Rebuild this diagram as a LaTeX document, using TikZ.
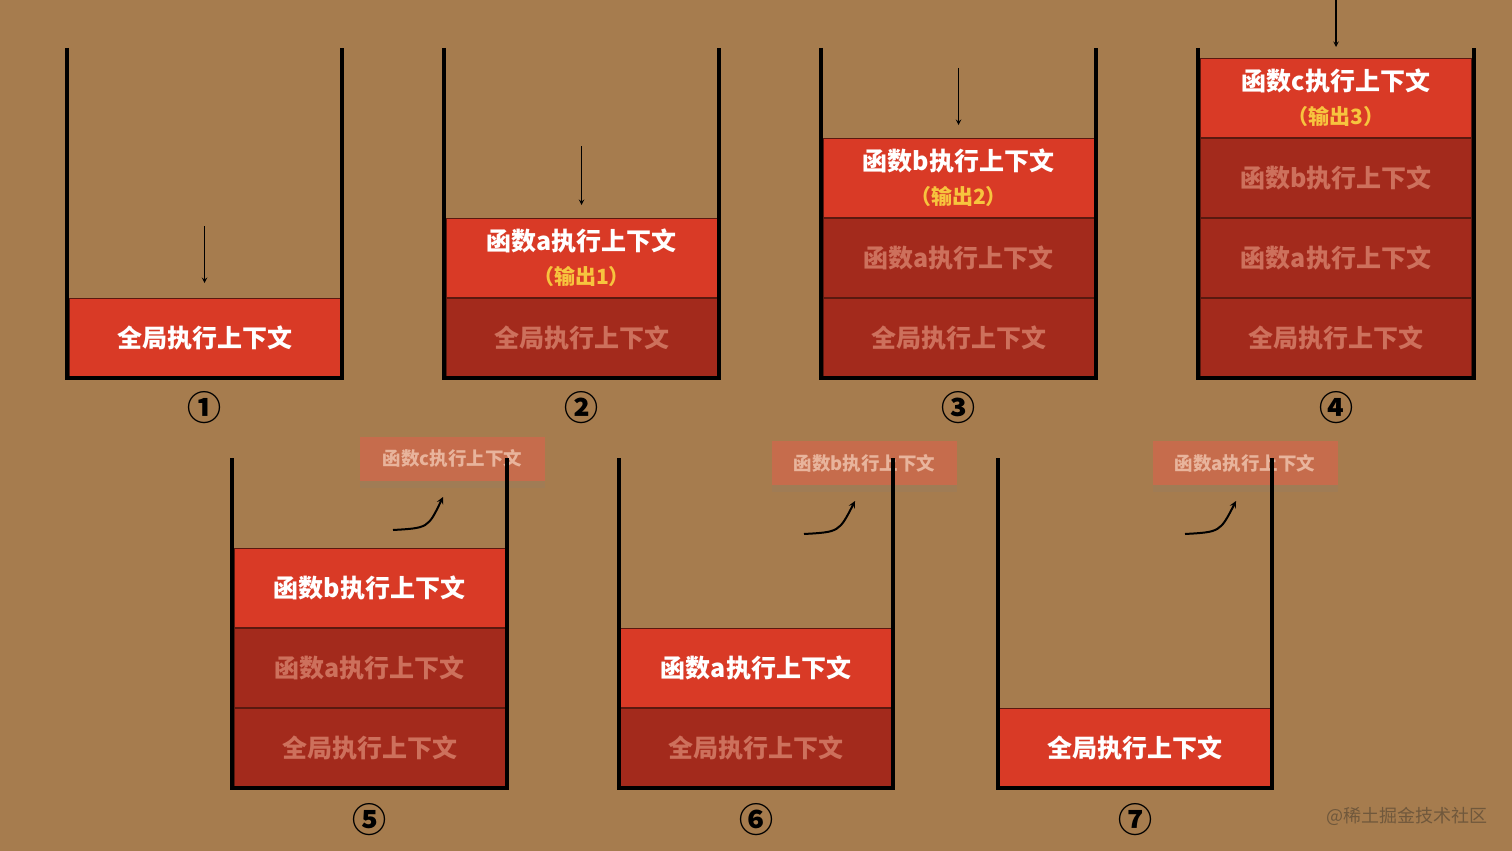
\documentclass[tikz,border=0pt]{standalone}
\usepackage{fontspec}
\setmainfont{Noto Sans CJK SC}
\usetikzlibrary{arrows, positioning, shadows}
\definecolor{bgbrown}{RGB}{166,124,78}
\definecolor{redtop}{RGB}{217,58,38}
\definecolor{reddark}{RGB}{163,42,28}
\definecolor{darkedge}{RGB}{90,25,15}
\definecolor{fadetext}{RGB}{205,112,92}
\definecolor{outyellow}{RGB}{247,196,62}
\definecolor{popfill}{RGB}{198,108,76}
\definecolor{poptext}{RGB}{232,180,156}
\definecolor{marktext}{RGB}{112,88,60}
\tikzstyle{active} = [
  rectangle,
  minimum width=271pt,
  minimum height=79pt,
  inner sep=0pt,
  text centered,
  align=center,
  draw=darkedge,
  line width=1pt,
  fill=redtop,
  text=white,
  font=\bfseries\fontsize{25}{34}\selectfont
]
\tikzstyle{waiting} = [active, fill=reddark, text=fadetext]
\tikzstyle{popped} = [
  rectangle,
  minimum width=185pt,
  minimum height=44pt,
  inner sep=0pt,
  fill=popfill,
  text=poptext,
  font=\bfseries\fontsize{18.5}{22}\selectfont,
  drop shadow={shadow xshift=0pt, shadow yshift=-7pt, opacity=.14}
]
\tikzstyle{push} = [->, >=stealth, line width=1.4pt]
\tikzstyle{pop} = [->, >=stealth, line width=2pt]
\tikzstyle{wall} = [line width=3.5pt, line join=miter]
\tikzstyle{stepno} = [font=\bfseries\fontsize{34}{36}\selectfont]
\newcommand{\outline}[1]{\\{\color{outyellow}\fontsize{21}{24}\selectfont（输出#1）}}

\begin{document}
\begin{tikzpicture}[x=1pt, y=-1pt]
  \fill[bgbrown] (0,0) rectangle (1512,851);
  \useasboundingbox (0,0) rectangle (1512,851);

  % stage 1
  \node (g1) [active] at (204.5,338) {全局执行上下文};
  \draw [wall] (67,48) |- (342,378) -- (342,48);
  \coordinate (in1) at (204.5,226);
  \draw [push, shorten >=15pt] (in1) -- (g1.north);
  \node (n1) [stepno] at (204.5,408) {①};

  % stage 2
  \node (g2) [waiting] at (581.5,338) {全局执行上下文};
  \node (a2) [active, above=0pt of g2] {函数a执行上下文\outline{1}};
  \draw [wall] (444,48) |- (719,378) -- (719,48);
  \coordinate (in2) at (581.5,146);
  \draw [push, shorten >=13pt] (in2) -- (a2.north);
  \node (n2) [stepno] at (581.5,408) {②};

  % stage 3
  \node (g3) [waiting] at (958.5,338) {全局执行上下文};
  \node (a3) [waiting, above=0pt of g3] {函数a执行上下文};
  \node (b3) [active, above=0pt of a3] {函数b执行上下文\outline{2}};
  \draw [wall] (821,48) |- (1096,378) -- (1096,48);
  \coordinate (in3) at (958.5,68);
  \draw [push, shorten >=13pt] (in3) -- (b3.north);
  \node (n3) [stepno] at (958.5,408) {③};

  % stage 4
  \node (g4) [waiting] at (1336,338) {全局执行上下文};
  \node (a4) [waiting, above=0pt of g4] {函数a执行上下文};
  \node (b4) [waiting, above=0pt of a4] {函数b执行上下文};
  \node (c4) [active, above=0pt of b4] {函数c执行上下文\outline{3}};
  \draw [wall] (1198,48) |- (1474,378) -- (1474,48);
  \coordinate (in4) at (1336,0);
  \draw [push, shorten >=11pt] (in4) -- (c4.north);
  \node (n4) [stepno] at (1336,408) {④};

  % stage 5
  \node (c5) [popped] at (452.5,458.5) {函数c执行上下文};
  \node (g5) [waiting] at (369.5,747.5) {全局执行上下文};
  \node (a5) [waiting, above=0pt of g5] {函数a执行上下文};
  \node (b5) [active, above=0pt of a5] {函数b执行上下文};
  \draw [wall] (232,458) |- (507,788) -- (507,458);
  \coordinate (out5a) at (393,530);
  \coordinate (out5b) at (443,497);
  \draw [pop] (out5a) .. controls (428,528) .. (out5b);
  \node (n5) [stepno] at (369.5,820) {⑤};

  % stage 6
  \node (b6) [popped] at (864.5,463) {函数b执行上下文};
  \node (g6) [waiting] at (756,747.5) {全局执行上下文};
  \node (a6) [active, above=0pt of g6] {函数a执行上下文};
  \draw [wall] (619,458) |- (893,788) -- (893,458);
  \coordinate (out6a) at (804,534);
  \coordinate (out6b) at (855,501);
  \draw [pop] (out6a) .. controls (839,532) .. (out6b);
  \node (n6) [stepno] at (756,820) {⑥};

  % stage 7
  \node (a7) [popped] at (1245,463) {函数a执行上下文};
  \node (g7) [active] at (1135,747.5) {全局执行上下文};
  \draw [wall] (998,458) |- (1272,788) -- (1272,458);
  \coordinate (out7a) at (1185,534);
  \coordinate (out7b) at (1236,501);
  \draw [pop] (out7a) .. controls (1220,532) .. (out7b);
  \node (n7) [stepno] at (1135,820) {⑦};

  \node (mark) [text=marktext, font=\fontsize{18}{20}\selectfont] at (1407,816) {@稀土掘金技术社区};
\end{tikzpicture}
\end{document}
